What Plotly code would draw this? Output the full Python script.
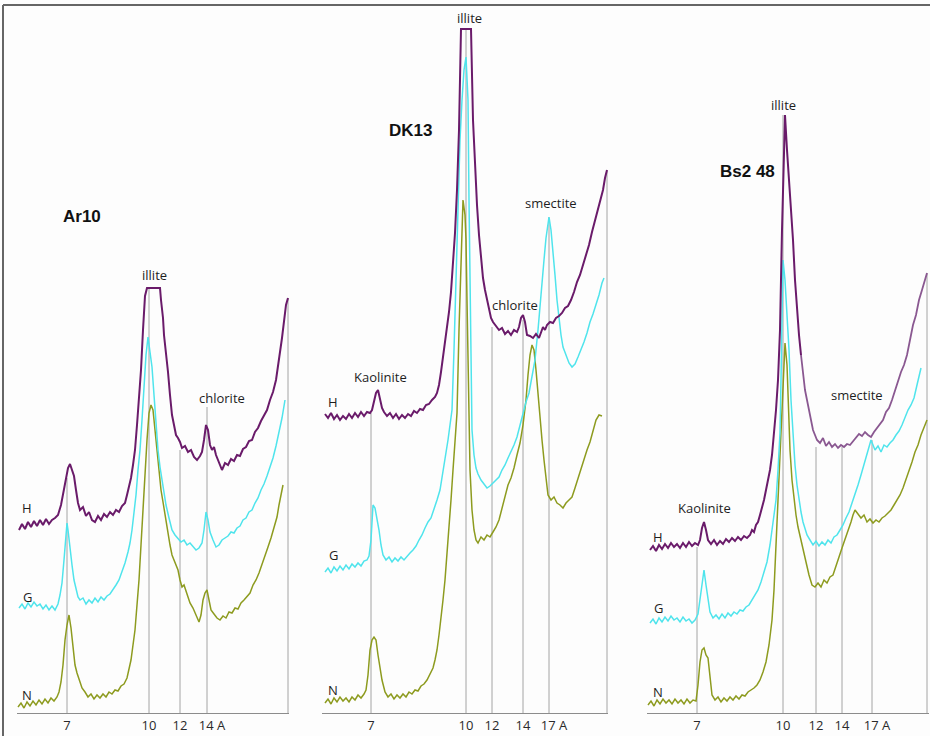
import plotly.graph_objects as go

# ---------------------------------------------------------------
# Data: XRD diffractograms, scan position (arbitrary units along
# each panel) vs. intensity (arbitrary units). H / G / N treatments.
# ---------------------------------------------------------------

# ---- Panel 1 : Ar10 ----
AR10_H = [(1,183),(4,189),(7,184),(10,191),(13,186),(16,192),(19,187),(22,193),(25,188),(28,194),
          (31,189),(34,193),(37,195),(40,198),(43,208),(46,223),(48,235),(50,245),(52,249),(54,243),
          (56,237),(58,223),(60,210),(62,203),(65,206),(68,197),(71,201),(74,193),(77,191),(80,197),
          (83,193),(86,199),(89,196),(92,201),(95,198),(98,203),(101,201),(104,207),(107,210),(109,218),
          (111,226),(113,235),(115,248),(117,263),(119,288),(121,315),(123,343),(125,383),(127,417),(129,425),
          (142,425),(143,413),(145,395),(146,378),(148,361),(150,341),(152,318),(154,298),(156,288),(158,278),
          (160,275),(162,271),(164,265),(167,267),(170,261),(173,263),(176,256),(179,253),(182,257),(184,261),
          (186,273),(188,288),(190,283),(192,268),(194,263),(196,266),(198,258),(201,251),(204,243),(207,250),
          (210,248),(213,254),(216,252),(219,258),(222,257),(225,264),(228,266),(231,272),(234,273),(237,281),
          (240,285),(243,292),(246,297),(249,303),(252,313),(255,321),(258,333),(260,345),(262,361),(264,375),
          (266,393),(268,408),(270,415)]
AR10_G = [(1,105),(4,109),(7,104),(10,110),(13,106),(16,111),(19,107),(22,109),(25,104),(28,108),
          (31,103),(34,107),(37,103),(40,109),(42,118),(44,130),(46,153),(48,178),(49,190),(50,183),
          (52,163),(54,148),(56,133),(58,123),(60,116),(62,113),(65,115),(68,109),(71,113),(74,110),
          (77,115),(80,111),(83,116),(86,113),(89,117),(92,119),(95,123),(98,128),(101,133),(104,141),
          (107,150),(110,161),(112,170),(114,183),(116,198),(118,218),(120,243),(122,263),(124,293),(126,328),
          (128,358),(130,376),(132,363),(134,346),(136,318),(138,288),(140,263),(142,246),(145,228),(148,208),
          (151,195),(154,183),(157,178),(160,175),(163,171),(166,173),(169,168),(172,170),(175,166),(178,163),
          (181,165),(184,170),(186,183),(188,201),(190,193),(192,181),(195,173),(198,166),(201,168),(204,173),
          (207,175),(210,177),(213,181),(216,180),(219,185),(222,187),(225,193),(228,195),(231,201),(234,203),
          (237,210),(240,215),(243,223),(246,229),(249,237),(252,245),(255,255),(258,267),(261,281),(264,295),
          (267,313)]
AR10_N = [(0,6),(3,10),(6,5),(9,11),(12,7),(15,12),(18,8),(21,13),(24,9),(27,14),
          (30,10),(33,15),(36,12),(39,16),(41,21),(43,31),(45,48),(47,73),(49,88),(51,98),
          (53,85),(55,65),(57,48),(59,40),(61,33),(64,25),(67,21),(70,16),(73,19),(76,14),
          (79,18),(82,15),(85,19),(88,16),(91,21),(94,19),(97,23),(100,22),(103,27),(106,29),
          (109,35),(111,43),(113,53),(115,68),(117,83),(119,108),(121,133),(123,168),(125,208),(127,238),
          (129,273),(131,300),(133,308),(135,303),(137,283),(139,263),(141,243),(143,223),(145,211),(147,198),
          (149,185),(152,168),(154,158),(156,153),(158,146),(160,143),(162,133),(164,126),(166,128),(169,118),
          (172,110),(175,105),(178,98),(181,91),(183,98),(185,113),(187,120),(189,123),(191,113),(193,103),
          (196,99),(199,95),(202,93),(205,97),(208,95),(211,101),(214,100),(217,105),(220,104),(223,110),
          (226,113),(229,116),(232,120),(235,128),(238,133),(241,140),(244,148),(247,158),(250,166),(253,175),
          (256,186),(259,196),(261,208),(263,218),(265,228)]

# ---- Panel 2 : DK13 ----
DK13_H = [(2,299),(5,295),(8,300),(11,294),(14,298),(17,293),(20,297),(23,294),(26,299),(29,295),
          (32,300),(35,296),(38,301),(41,297),(44,301),(47,300),(49,303),(51,311),(53,320),(55,323),
          (57,315),(59,305),(61,301),(64,297),(67,300),(70,295),(73,299),(76,294),(79,298),(82,295),
          (85,299),(88,297),(91,302),(94,300),(97,304),(100,303),(103,308),(106,309),(109,313),(112,316),
          (114,320),(116,328),(118,341),(120,355),(122,370),(124,383),(126,401),(128,421),(130,448),(132,480),
          (134,523),(136,583),(138,684),(148,684),(150,593),(152,543),(154,508),(156,478),(158,455),(160,435),
          (162,423),(164,413),(166,403),(168,395),(170,391),(173,387),(176,383),(179,385),(182,379),(185,382),
          (188,378),(191,383),(194,381),(196,386),(198,395),(200,398),(202,391),(204,378),(207,377),(210,375),
          (213,379),(216,375),(218,381),(220,386),(222,383),(224,388),(227,391),(230,390),(233,395),(236,397),
          (239,400),(242,405),(245,407),(248,413),(251,421),(254,431),(257,438),(260,448),(263,457),(266,468),
          (269,481),(272,493),(275,505),(278,515),(280,523),(282,535),(284,543)]
DK13_G = [(2,141),(5,145),(8,140),(11,146),(14,142),(17,147),(20,143),(23,148),(26,144),(29,149),
          (32,146),(35,150),(38,147),(41,152),(44,153),(46,157),(48,173),(50,208),(52,205),(54,195),
          (56,183),(58,168),(60,158),(63,153),(66,156),(69,151),(72,155),(75,152),(78,156),(81,153),
          (84,157),(87,160),(90,163),(93,167),(96,173),(99,178),(102,185),(105,191),(108,195),(111,203),
          (114,213),(117,223),(119,235),(121,245),(123,258),(125,273),(127,288),(129,303),(131,363),(133,443),
          (135,513),(137,573),(139,613),(141,643),(143,656),(145,613),(146,513),(147,413),(148,333),(149,283),
          (151,258),(153,245),(155,239),(158,233),(161,229),(164,225),(167,227),(170,230),(173,233),(176,236),
          (179,243),(182,248),(185,255),(188,261),(191,268),(194,276),(197,288),(200,300),(203,311),(206,320),
          (209,335),(212,353),(215,383),(218,423),(221,453),(223,475),(225,491),(226,496),(228,483),(230,463),
          (232,438),(234,413),(236,393),(238,378),(240,366),(243,357),(246,350),(249,346),(252,349),(255,356),
          (258,363),(261,371),(264,380),(267,391),(270,399),(273,408),(276,418),(279,430),(281,435)]
DK13_N = [(2,10),(5,14),(8,9),(11,15),(14,11),(17,16),(20,12),(23,15),(26,11),(29,16),
          (32,13),(35,18),(38,15),(41,19),(43,23),(45,38),(47,63),(49,73),(51,76),(53,73),
          (55,58),(57,46),(59,33),(62,21),(65,16),(68,19),(71,14),(74,18),(77,15),(80,19),
          (83,16),(86,21),(89,19),(92,23),(95,22),(98,27),(101,29),(104,33),(107,39),(110,45),
          (112,53),(114,63),(116,78),(118,93),(120,113),(122,133),(124,158),(126,183),(128,213),(130,243),
          (132,273),(134,300),(136,383),(138,453),(140,513),(142,498),(143,473),(144,413),(145,346),(146,293),
          (147,243),(149,203),(151,183),(153,173),(155,170),(158,176),(161,173),(164,178),(167,176),(170,181),
          (173,186),(176,193),(179,205),(182,218),(185,228),(188,235),(191,245),(194,258),(197,270),(200,288),
          (203,313),(205,338),(207,358),(209,368),(211,363),(213,343),(215,318),(217,293),(219,273),(221,253),
          (223,233),(225,218),(228,213),(231,216),(234,210),(237,208),(240,205),(243,210),(246,213),(249,216),
          (252,225),(255,235),(258,245),(261,253),(264,263),(267,271),(270,281),(273,293),(276,298),(279,297)]

# ---- Panel 3 : Bs2 48 ----
BS248_H = [(2,163),(5,167),(8,162),(11,168),(14,164),(17,169),(20,165),(23,170),(26,166),(29,169),
           (32,165),(35,170),(38,166),(41,171),(44,167),(47,170),(50,168),(52,173),(54,185),(56,191),
           (58,183),(60,173),(63,169),(66,173),(69,168),(72,172),(75,169),(78,174),(81,171),(84,175),
           (87,172),(90,176),(93,173),(96,177),(99,175),(102,178),(104,183),(106,181),(108,188),(110,191),
           (112,198),(114,205),(116,213),(118,223),(120,233),(122,243),(124,258),(126,278),(128,303),(130,333),
           (132,383),(134,483),(136,573),(137,598),(139,563),(141,533),(143,508),(145,473),(147,433),(149,403),
           (151,378),(153,358),(155,338),(157,323),(159,313),(161,301),(163,293),(165,283),(167,277),(169,273),
           (172,270),(175,275),(178,267),(181,271),(184,266),(187,269),(190,265),(193,268),(196,266),(199,269),
           (202,268),(205,272),(208,276),(211,279),(214,277),(217,281),(220,278),(223,276),(226,281),(229,285),
           (232,288),(235,293),(238,301),(241,305),(244,313),(247,323),(250,333),(253,341),(256,348),(259,358),
           (262,373),(265,388),(268,398),(271,413),(274,423),(277,433),(279,440)]
BS248_G = [(2,90),(5,94),(8,89),(11,95),(14,91),(17,96),(20,92),(23,97),(26,93),(29,95),
           (32,91),(35,96),(38,92),(41,94),(44,90),(47,93),(50,99),(52,113),(54,131),(56,143),
           (58,128),(60,113),(62,101),(65,95),(68,98),(71,94),(74,99),(77,95),(80,100),(83,97),
           (86,101),(89,99),(92,103),(95,102),(98,106),(101,108),(104,113),(107,117),(110,123),(113,131),
           (116,140),(119,151),(122,168),(125,188),(128,213),(130,243),(132,280),(133,333),(134,403),(135,453),
           (137,433),(139,400),(141,363),(143,313),(145,273),(147,248),(149,228),(151,213),(153,201),(155,191),
           (157,183),(159,178),(162,173),(165,168),(168,172),(171,167),(174,171),(177,168),(180,173),(183,170),
           (186,176),(189,178),(192,183),(195,188),(198,195),(201,201),(204,210),(207,218),(210,228),(213,238),
           (216,248),(219,258),(221,265),(223,273),(225,268),(227,263),(230,267),(233,261),(236,268),(239,266),
           (242,270),(245,273),(248,278),(251,282),(254,288),(257,295),(260,303),(263,308),(266,315),(269,328),
           (271,338),(273,345)]
BS248_N = [(0,8),(3,12),(6,7),(9,13),(12,9),(15,14),(18,10),(21,13),(24,9),(27,14),
           (30,10),(33,13),(36,9),(39,14),(42,10),(45,13),(48,12),(50,28),(52,51),(54,63),
           (56,65),(58,58),(60,55),(62,38),(64,18),(67,13),(70,16),(73,11),(76,15),(79,12),
           (82,16),(85,13),(88,17),(91,14),(94,18),(97,17),(100,21),(103,23),(106,25),(109,28),
           (112,33),(115,41),(118,51),(121,68),(124,93),(126,123),(128,168),(130,213),(132,258),(134,303),
           (136,353),(137,370),(139,348),(140,313),(142,263),(144,233),(146,213),(148,198),(150,186),(152,178),
           (155,163),(158,151),(161,138),(164,128),(167,126),(170,130),(173,126),(176,133),(179,130),(182,136),
           (185,138),(188,148),(191,156),(194,165),(197,173),(200,181),(203,191),(205,198),(207,203),(210,199),
           (213,195),(216,198),(219,191),(222,194),(225,190),(228,193),(231,191),(234,195),(237,197),(240,200),
           (243,203),(246,208),(249,213),(252,218),(255,225),(258,233),(261,241),(264,251),(267,261),(270,268),
           (273,278),(276,285),(279,293)]

# ---- d-spacing ticks (scan position) and labels ----
AR10_TICKS = [49, 131, 162, 189]
AR10_TICKTEXT = ["7", "10", "12", "&nbsp;&nbsp;&nbsp;14 A"]
DK13_TICKS = [48, 143, 169, 200, 226]
DK13_TICKTEXT = ["7", "10", "12", "14", "&nbsp;&nbsp;&nbsp;17 A"]
BS248_TICKS = [49, 135, 168, 194, 224]
BS248_TICKTEXT = ["7", "10", "12", "14", "&nbsp;&nbsp;&nbsp;17 A"]

# ---- reference (peak) lines: scan position and top intensity ----
AR10_GUIDE_X = [49, 131, 162, 189, 270]
AR10_GUIDE_TOP = [235, 425, 263, 306, 415]
DK13_GUIDE_X = [48, 143, 169, 200, 226, 284]
DK13_GUIDE_TOP = [300, 684, 386, 393, 496, 543]
BS248_GUIDE_X = [49, 135, 168, 194, 224, 279]
BS248_GUIDE_TOP = [166, 598, 266, 266, 273, 440]

# ---- text labels: (text, scan position, intensity) ----
AR10_LABELS = [("H", 9, 205), ("G", 9, 116), ("N", 9, 18),
               ("illite", 136, 438), ("chlorite", 204, 315)]
DK13_LABELS = [("H", 10, 311), ("G", 10, 158), ("N", 10, 23),
               ("illite", 146, 695), ("Kaolinite", 57, 336),
               ("chlorite", 192, 408), ("smectite", 228, 510)]
BS248_LABELS = [("H", 10, 176), ("G", 10, 105), ("N", 10, 21),
                ("illite", 135, 608), ("Kaolinite", 56, 205), ("smectite", 209, 318)]
TITLES = [("Ar10", 64, 496), ("DK13", 87, 582), ("Bs2 48", 99, 541)]

# ---------------------------------------------------------------
PURPLE = "#6a1b6a"
PURPLE_LIGHT = "#8a5891"
CYAN = "#4fe4ec"
OLIVE = "#8d9b1f"
GUIDE = "#a4a4a4"
AXIS = "#8c8c8c"
TXT = "#1e1e1e"
FONT = "Open Sans"

W, Hh = 930, 736

panels = [
    dict(xa="x", ax="xaxis", H=AR10_H, G=AR10_G, N=AR10_N, ticks=AR10_TICKS, tt=AR10_TICKTEXT,
         gx=AR10_GUIDE_X, gt=AR10_GUIDE_TOP, labels=AR10_LABELS, title=TITLES[0],
         rng=[-1, 271], dom=[17, 289], fade_from=None),
    dict(xa="x2", ax="xaxis2", H=DK13_H, G=DK13_G, N=DK13_N, ticks=DK13_TICKS, tt=DK13_TICKTEXT,
         gx=DK13_GUIDE_X, gt=DK13_GUIDE_TOP, labels=DK13_LABELS, title=TITLES[1],
         rng=[-1, 285], dom=[322, 608], fade_from=None),
    dict(xa="x3", ax="xaxis3", H=BS248_H, G=BS248_G, N=BS248_N, ticks=BS248_TICKS, tt=BS248_TICKTEXT,
         gx=BS248_GUIDE_X, gt=BS248_GUIDE_TOP, labels=BS248_LABELS, title=TITLES[2],
         rng=[-1, 281], dom=[647, 929], fade_from=153),
]

fig = go.Figure()
shapes = []
annotations = []
layout_axes = {}


def add_line(pts, xa, color, width):
    fig.add_trace(go.Scatter(x=[pt[0] for pt in pts], y=[pt[1] for pt in pts], mode="lines",
                             xaxis=xa, yaxis="y", line=dict(color=color, width=width),
                             showlegend=False, hoverinfo="skip"))


for p in panels:
    add_line(p["N"], p["xa"], OLIVE, 1.5)
    add_line(p["G"], p["xa"], CYAN, 1.5)
    if p["fade_from"] is None:
        add_line(p["H"], p["xa"], PURPLE, 2.0)
    else:
        first = [pt for pt in p["H"] if pt[0] <= p["fade_from"]]
        rest = [pt for pt in p["H"] if pt[0] >= p["fade_from"]]
        add_line(first, p["xa"], PURPLE, 2.0)
        add_line(rest, p["xa"], PURPLE_LIGHT, 1.8)
    for gx, gt in zip(p["gx"], p["gt"]):
        shapes.append(dict(type="line", xref=p["xa"], yref="y", x0=gx, x1=gx, y0=0, y1=gt,
                           line=dict(color=GUIDE, width=1), layer="below"))
    for txt, lx, ly in p["labels"]:
        annotations.append(dict(text=txt, x=lx, y=ly, xref=p["xa"], yref="y", showarrow=False,
                                font=dict(family=FONT, size=13, color=TXT)))
    t, tx, ty = p["title"]
    annotations.append(dict(text="<b>" + t + "</b>", x=tx, y=ty, xref=p["xa"], yref="y",
                            showarrow=False,
                            font=dict(family="Liberation Sans", size=17, color="#111111")))
    layout_axes[p["ax"]] = dict(
        domain=[p["dom"][0] / W, p["dom"][1] / W], range=p["rng"], anchor="y",
        showline=True, linecolor=AXIS, linewidth=1, ticks="", showgrid=False, zeroline=False,
        tickmode="array", tickvals=p["ticks"], ticktext=p["tt"], tickangle=0,
        tickfont=dict(family=FONT, size=13, color="#2a2a2a"), fixedrange=True)

# frame border (top and left)
shapes.append(dict(type="line", xref="paper", yref="paper", x0=3 / W, x1=1, y0=731 / Hh, y1=731 / Hh,
                   line=dict(color="#666666", width=2)))
shapes.append(dict(type="line", xref="paper", yref="paper", x0=3 / W, x1=3 / W, y0=0, y1=731 / Hh,
                   line=dict(color="#666666", width=2)))

fig.update_layout(
    width=W, height=Hh,
    margin=dict(l=0, r=0, t=0, b=0),
    paper_bgcolor="#fdfdfd", plot_bgcolor="#fdfdfd",
    yaxis=dict(domain=[23 / Hh, 731 / Hh], range=[0, 708], visible=False, fixedrange=True),
    shapes=shapes, annotations=annotations,
    **layout_axes,
)

fig.write_html(
    "out.html",
    config={"displayModeBar": False},
    post_script="document.body.style.margin='0';document.body.style.overflow='hidden';",
)
